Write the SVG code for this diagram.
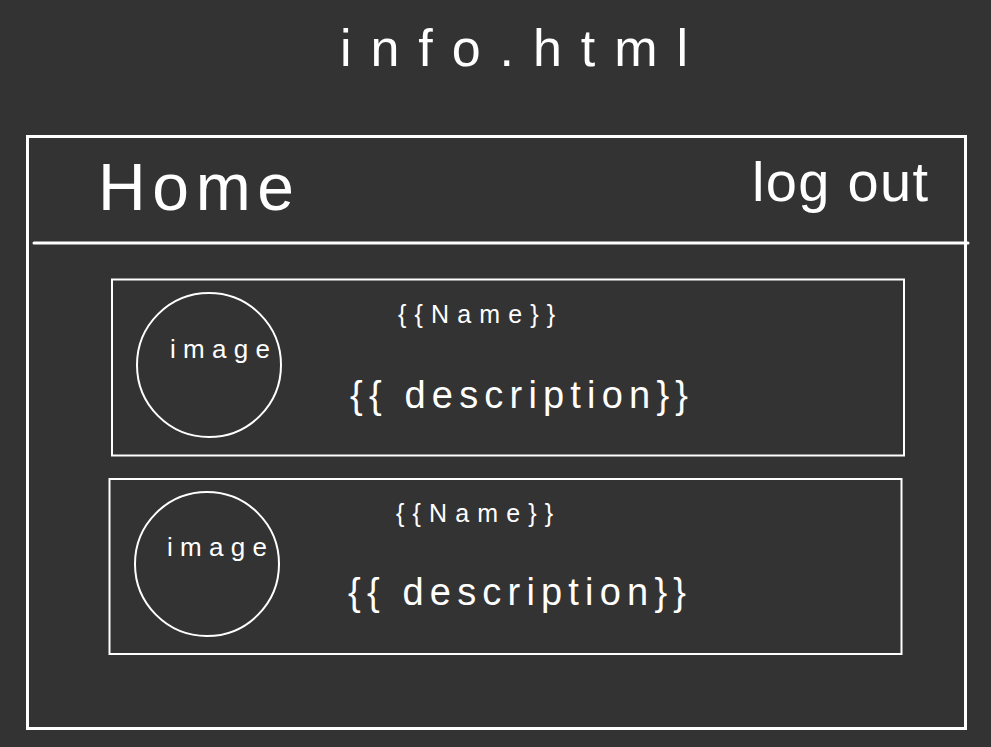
<svg xmlns="http://www.w3.org/2000/svg" width="991" height="747" viewBox="0 0 991 747">
<style>
.ln{fill:none;stroke:#ffffff;stroke-linecap:round}
.t{fill:#ffffff;font-family:"Liberation Sans","DejaVu Sans",sans-serif;font-weight:normal}
</style>
<rect x="0" y="0" width="991" height="747" fill="#333333"/>
<text class="t" x="340" y="66" font-size="52" textLength="348" lengthAdjust="spacing">info.html</text>
<g id="page">
<rect class="ln" x="27.5" y="136.5" width="938" height="592" stroke-width="3"/>
<line class="ln" x1="34" y1="243" x2="968" y2="243" stroke-width="3"/>
</g>
<g id="home"><text class="t" x="98" y="210" font-size="66" textLength="196" lengthAdjust="spacing">Home</text></g>
<g id="logout"><text class="t" x="752" y="201" font-size="56" textLength="176" lengthAdjust="spacing">log out</text></g>
<g id="card1">
<rect class="ln" x="112" y="279.5" width="792" height="176" stroke-width="2"/>
<circle class="ln" cx="209" cy="365" r="72" stroke-width="2"/>
<text class="t" x="170" y="358" font-size="26" textLength="100" lengthAdjust="spacing">image</text>
<text class="t" x="398" y="323" font-size="25" textLength="157" lengthAdjust="spacing">{{Name}}</text>
<text class="t" x="350" y="408" font-size="38" textLength="338" lengthAdjust="spacing">{{ description}}</text>
</g>
<g id="card2">
<rect class="ln" x="109.5" y="479" width="792" height="175" stroke-width="2"/>
<circle class="ln" cx="207" cy="564" r="72" stroke-width="2"/>
<text class="t" x="167" y="556" font-size="26" textLength="100" lengthAdjust="spacing">image</text>
<text class="t" x="396" y="522" font-size="25" textLength="157" lengthAdjust="spacing">{{Name}}</text>
<text class="t" x="348" y="605" font-size="38" textLength="338" lengthAdjust="spacing">{{ description}}</text>
</g>
<g id="connectors"></g>
</svg>
